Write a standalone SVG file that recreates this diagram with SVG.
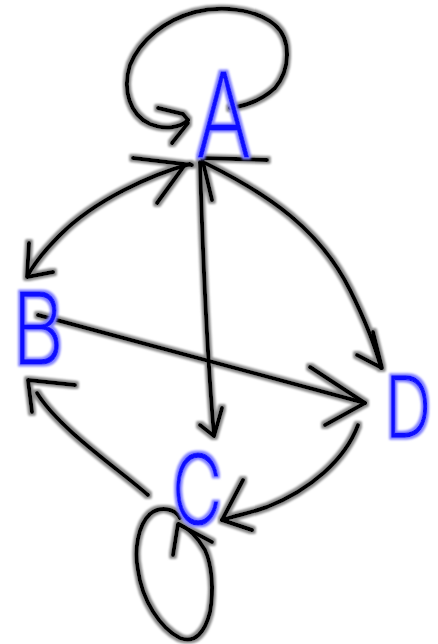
<svg xmlns="http://www.w3.org/2000/svg" width="438" height="644" viewBox="0 0 438 644">
<defs>
<style>
.ink{fill:none;stroke:#000;stroke-width:4;stroke-linecap:round;stroke-linejoin:round}
.lbl{font-family:"DejaVu Sans ExtraLight",Inter,"Liberation Sans",sans-serif;font-weight:200;fill:#0a0aff;stroke:#0a0aff;stroke-width:1;stroke-linejoin:round}
</style>
<filter id="haloK" x="-5%" y="-5%" width="110%" height="110%">
<feMorphology in="SourceAlpha" operator="dilate" radius="2" result="d"/>
<feGaussianBlur in="d" stdDeviation="0.8" result="b"/>
<feFlood flood-color="#8a8a8a"/>
<feComposite in2="b" operator="in" result="h"/>
<feMerge><feMergeNode in="h"/><feMergeNode in="SourceGraphic"/></feMerge>
</filter>
<filter id="haloB" x="-20%" y="-20%" width="140%" height="140%">
<feMorphology in="SourceAlpha" operator="dilate" radius="2" result="d"/>
<feGaussianBlur in="d" stdDeviation="0.8" result="b"/>
<feFlood flood-color="#8080ff"/>
<feComposite in2="b" operator="in" result="h"/>
<feMerge><feMergeNode in="h"/><feMergeNode in="SourceGraphic"/></feMerge>
</filter>
</defs>
<rect width="438" height="644" fill="#fff"/>
<g id="connectors" class="ink" filter="url(#haloK)">
<path d="M230,108 C245,106 262,100 275,88 C290,70 292,40 275,25 C255,8 220,6 195,12 C165,20 140,40 130,65 C122,90 130,115 150,124 C165,130 180,128 188,120"/>
<path d="M158,108 L183,114 L188,120 M172,143 L188,123"/>
<path d="M190,164 C150,175 95,200 60,235 C45,250 35,262 28,275"/>
<path d="M29,243 L27,277 L53,272"/>
<path d="M133,158 L192,165 M157,203 L184,166"/>
<path d="M200,162 C202,230 205,330 214,435"/>
<path d="M200,425 L214,436 L222,408"/>
<path d="M205,163 C270,195 320,230 350,290 C365,320 375,345 381,368"/>
<path d="M373,332 L382,368 L357,355"/>
<path d="M267,160 L202,158 L212,200"/>
<path d="M38,315 L365,403"/>
<path d="M310,367 L365,403 L325,425"/>
<path d="M358,425 C345,460 310,490 267,507 C250,513 238,515 222,520"/>
<path d="M243,480 L222,520 L252,530"/>
<path d="M148,495 C120,470 60,430 37,393"/>
<path d="M32,412 L28,380 L75,385"/>
<path d="M180,518 C175,508 160,506 150,514 C138,525 134,550 138,570 C142,600 160,628 180,638 C195,644 205,632 210,612 C214,590 212,565 205,550 C198,538 188,528 179,524"/>
<path d="M173,555 L178,524 L212,542"/>
</g>
<g id="node-A" filter="url(#haloB)"><text class="lbl" x="196" y="157" font-size="117" textLength="55" lengthAdjust="spacingAndGlyphs">A</text></g>
<g id="node-B" filter="url(#haloB)"><text class="lbl" x="12" y="364" font-size="99" textLength="52" lengthAdjust="spacingAndGlyphs">B</text></g>
<g id="node-C" filter="url(#haloB)"><text class="lbl" x="172" y="524" font-size="96" textLength="50" lengthAdjust="spacingAndGlyphs">C</text></g>
<g id="node-D" filter="url(#haloB)"><text class="lbl" transform="translate(385,437) scale(1,1.3)" x="0" y="0" font-size="64" textLength="46" lengthAdjust="spacingAndGlyphs">D</text></g>
</svg>
